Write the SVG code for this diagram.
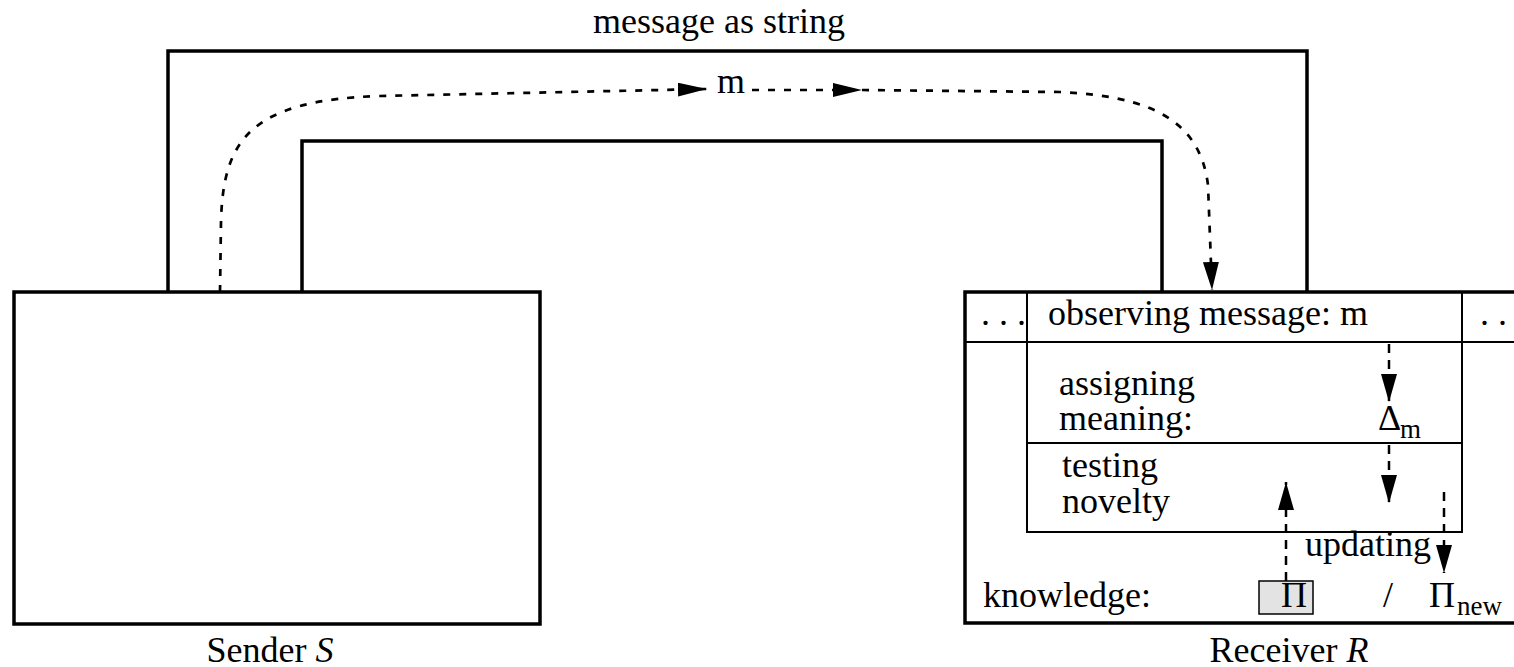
<svg xmlns="http://www.w3.org/2000/svg" width="1514" height="667" viewBox="0 0 1514 667">
<style>
text{font-family:"Liberation Serif","Times New Roman",serif;font-size:36px;fill:#000}
.sub{font-size:27px}
.it{font-style:italic}
.thick{fill:none;stroke:#000;stroke-width:3.5}
.thin{fill:none;stroke:#000;stroke-width:2}
.dash{fill:none;stroke:#000;stroke-width:2.7;stroke-dasharray:7 9}
.vdash{fill:none;stroke:#000;stroke-width:2.5;stroke-dasharray:9 7}
</style>
<defs>
<marker id="ah" markerUnits="userSpaceOnUse" markerWidth="29" markerHeight="14" refX="29" refY="7" orient="auto">
<path d="M0,0 L29,7 L0,14 z" fill="#000"/>
</marker>
<marker id="av" markerUnits="userSpaceOnUse" markerWidth="28" markerHeight="16" refX="28" refY="8" orient="auto">
<path d="M0,0 L28,8 L0,16 z" fill="#000"/>
</marker>
</defs>
<rect width="1514" height="667" fill="#fff"/>

<g id="channel">
<path class="thick" d="M168,292 L168,51 L1307,51 L1307,292"/>
<path class="thick" d="M302,292 L302,141 L1162,141 L1162,292"/>
<text x="593" y="33">message as string</text>
</g>

<g id="sender">
<rect class="thick" x="14" y="292" width="526" height="332"/>
<text x="270" y="662" text-anchor="middle">Sender <tspan class="it">S</tspan></text>
</g>

<g id="receiver">
<path class="thick" d="M1516,292 L965,292 L965,623 L1516,623"/>
<path class="thin" d="M965,342 L1514,342"/>
<path class="thin" d="M1027,292 L1027,532 L1462,532 L1462,292"/>
<path class="thin" d="M1027,443 L1462,443"/>
<text x="981" y="325">. . .</text>
<text x="1048" y="325">observing message: m</text>
<text x="1480" y="325">. . .</text>
<text x="1059" y="395">assigning</text>
<text x="1059" y="430">meaning:</text>
<text x="1378" y="430">Δ</text>
<text class="sub" x="1400" y="438">m</text>
<text x="1062" y="477">testing</text>
<text x="1062" y="513">novelty</text>
<text x="1305" y="556">updating</text>
<text x="983" y="607">knowledge:</text>
<rect x="1259" y="581" width="54" height="33" fill="#e3e3e3" stroke="#000" stroke-width="1.5"/>
<text x="1281" y="607">Π</text>
<text x="1383" y="607">/</text>
<text x="1429" y="607">Π</text>
<text class="sub" x="1457" y="615">new</text>
<text x="1289" y="662" text-anchor="middle">Receiver <tspan class="it">R</tspan></text>
</g>

<g id="connectors">
<path class="dash" marker-end="url(#ah)" d="M220,292 L221,222 C223,140 250,100 380,96 L707,89"/>
<text x="717" y="93">m</text>
<path class="dash" marker-end="url(#ah)" d="M752,90 L862,90"/>
<path class="dash" marker-end="url(#av)" d="M862,90 L1060,92 C1150,96 1200,120 1208,185 L1212,290"/>
<path class="vdash" marker-end="url(#av)" d="M1389,344 L1389,402"/>
<path class="vdash" marker-end="url(#av)" d="M1389,445 L1389,503"/>
<path class="vdash" marker-end="url(#av)" d="M1286,581 L1286,482"/>
<path class="vdash" marker-end="url(#av)" d="M1444,492 L1444,573"/>
</g>
</svg>
